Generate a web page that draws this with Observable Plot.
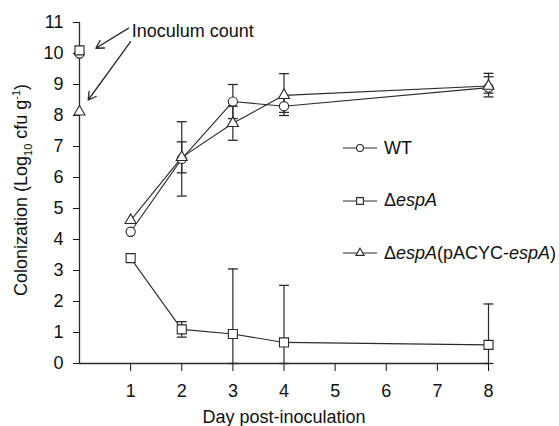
<!DOCTYPE html>
<html>
<head>
<meta charset="utf-8">
<script src="https://cdn.jsdelivr.net/npm/d3@7"></script>
<script src="https://cdn.jsdelivr.net/npm/@observablehq/plot@0.6"></script>
<style>
  html, body { margin: 0; padding: 0; background: #fff; }
  #wrap { position: relative; width: 559px; height: 426px; font-family: Arial, "Liberation Sans", sans-serif; color: #111; }
  #ylab { position: absolute; left: 22px; top: 190px; transform: translate(-50%, -50%) rotate(-90deg); white-space: nowrap; font-size: 18px; }
  #ylab sub, #ylab sup { font-size: 11px; }
  #legend { position: absolute; left: 343px; top: 138px; font-size: 18px; }
  .li { position: absolute; left: 0; height: 20px; display: flex; align-items: center; white-space: nowrap; }
  .li svg { margin-right: 7px; }
</style>
</head>
<body>
<div id="wrap">
  <div id="chart"></div>
  <div id="ylab">Colonization (Log<sub>10</sub> cfu g<sup>-1</sup>)</div>
  <div id="legend"></div>
</div>
<script>
// ---- data ----
const days = [0, 1, 2, 3, 4, 8];
const seriesNames = ["WT", "espA", "comp"];
const wt     = [10.0, 4.25, 6.6, 8.45, 8.3, 8.9];
const wtLo   = [null, null, 5.4, 7.9, 8.0, 8.6];
const wtHi   = [null, null, 7.8, 9.0, 8.6, 9.25];
const espA   = [10.1, 3.4, 1.1, 0.95, 0.68, 0.6];
const espALo = [null, null, 0.85, 0, 0, 0];
const espAHi = [null, null, 1.35, 3.05, 2.52, 1.92];
const comp   = [8.12, 4.62, 6.65, 7.75, 8.65, 8.95];
const compLo = [null, null, 6.15, 7.2, 8.1, 8.72];
const compHi = [null, null, 7.15, 8.3, 9.35, 9.36];
const xTicks = [1, 2, 3, 4, 5, 6, 7, 8];
const yTicks = [0, 1, 2, 3, 4, 5, 6, 7, 8, 9, 10, 11];
const annotationText = "Inoculum count";
const annotationPos = {x: 1.02, y: 10.72};
const arrows = [
  {x1: 0.96, y1: 10.82, x2: 0.32, y2: 10.17},
  {x1: 1.0, y1: 10.38, x2: 0.17, y2: 8.5}
];

// ---- build table ----
const vals = {WT: [wt, wtLo, wtHi], espA: [espA, espALo, espAHi], comp: [comp, compLo, compHi]};
const rows = [];
for (const s of seriesNames) {
  const [v, lo, hi] = vals[s];
  days.forEach((d, i) => rows.push({series: s, day: d, v: v[i], lo: lo[i], hi: hi[i]}));
}
const lineRows = rows.filter(r => r.day >= 1);
const errRows = rows.filter(r => r.lo != null);
const capRows = errRows.flatMap(r => [{day: r.day, y: r.lo}, {day: r.day, y: r.hi}]);

const capSymbol = { draw(ctx, size) { const w = Math.sqrt(size); ctx.moveTo(-w, 0); ctx.lineTo(w, 0); } };
const ink = "#2a2a2a";
const symbols = {WT: "circle", espA: "square", comp: "triangle"};
const radii = {WT: 4.6, espA: 5.1, comp: 4.1};

const chart = Plot.plot({
  width: 559, height: 426,
  marginLeft: 79, marginRight: 71, marginTop: 22, marginBottom: 63,
  style: {fontFamily: 'Arial, "Liberation Sans", sans-serif', fontSize: "18px", color: "#111", background: "#fff"},
  x: {domain: [0, 8], ticks: xTicks, tickSize: 8, tickPadding: 13, label: null},
  y: {domain: [0, 11], ticks: yTicks, tickSize: 6, tickPadding: 10, label: null},
  marks: [
    Plot.ruleX([0], {stroke: ink, strokeWidth: 1.3}),
    Plot.ruleY([0], {stroke: ink, strokeWidth: 1.3}),
    Plot.ruleX(errRows, {x: "day", y1: "lo", y2: "hi", stroke: ink, strokeWidth: 1.2}),
    Plot.dot(capRows, {x: "day", y: "y", symbol: capSymbol, r: 2.8, stroke: ink, strokeWidth: 1.3, fill: "none"}),
    Plot.line(lineRows, {x: "day", y: "v", z: "series", stroke: ink, strokeWidth: 1.1}),
    ...seriesNames.map(s => Plot.dot(rows.filter(r => r.series === s), {x: "day", y: "v", symbol: symbols[s], r: radii[s], fill: "white", stroke: ink, strokeWidth: 1.1})),
    Plot.arrow(arrows, {x1: "x1", y1: "y1", x2: "x2", y2: "y2", stroke: ink, strokeWidth: 1.3, headLength: 10}),
    Plot.text([annotationPos], {x: "x", y: "y", text: () => annotationText, textAnchor: "start", fontSize: 18, fill: "#111"}),
    Plot.text(["Day post-inoculation"], {frameAnchor: "bottom", lineAnchor: "middle", dy: 54, text: d => d, fontSize: 18, fill: "#111"})
  ]
});
document.getElementById("chart").appendChild(chart);

// ---- legend ----
const legendItems = [
  {s: "WT", html: "WT"},
  {s: "espA", html: "&Delta;<i>espA</i>"},
  {s: "comp", html: "&Delta;<i>espA</i>(pACYC-<i>espA</i>)"}
];
const legend = document.getElementById("legend");
legendItems.forEach((it, i) => {
  const div = document.createElement("div");
  div.className = "li";
  div.style.top = (i * 52.5) + "px";
  const sym = d3.symbol(d3["symbol" + {circle: "Circle", square: "Square", triangle: "Triangle"}[symbols[it.s]]], Math.PI * (radii[it.s] * 0.75) ** 2)();
  div.innerHTML = `<svg width="34" height="20"><line x1="0" x2="34" y1="10" y2="10" stroke="${ink}" stroke-width="1.1"/><path d="${sym}" transform="translate(17,10)" fill="white" stroke="${ink}" stroke-width="1.1"/></svg><span>${it.html}</span>`;
  legend.appendChild(div);
});
</script>
</body>
</html>
